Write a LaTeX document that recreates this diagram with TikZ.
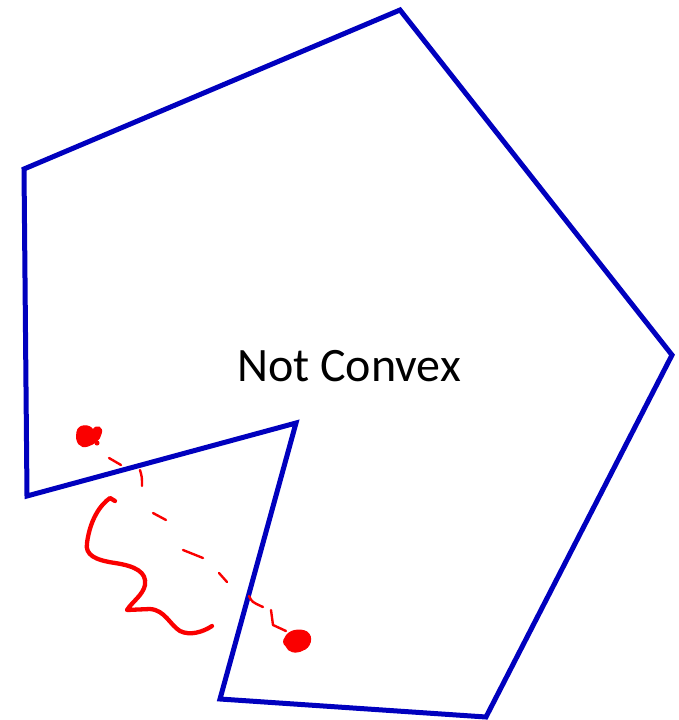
\documentclass[tikz,border=0pt]{standalone}
\usepackage{fontspec}
\setmainfont{Carlito}
\definecolor{polyblue}{RGB}{0,0,190}
\definecolor{inkred}{RGB}{250,0,0}
\tikzset{
  polyline/.style={draw=polyblue, line width=5pt, line join=miter},
  ink/.style={draw=inkred, line width=4.3pt, line cap=round, line join=round},
  inkdash/.style={draw=inkred, line width=2.4pt, line cap=round, line join=round},
  blob/.style={fill=inkred, draw=inkred, line width=1pt}
}
\begin{document}
\begin{tikzpicture}[x=1pt,y=-1pt]
\useasboundingbox (0,0) rectangle (679,720);
\coordinate (A) at (400,10);
\coordinate (B) at (672,355);
\coordinate (C) at (486,717);
\coordinate (D) at (220,699);
\coordinate (E) at (296,423);
\coordinate (F) at (27,496);
\coordinate (G) at (24,169);
\draw[polyline] (A) -- (B) -- (C) -- (D) -- (E) -- (F) -- (G) -- cycle;
\node[font=\fontsize{48}{54}\selectfont, inner sep=0pt] (lbl) at (349,366) {Not Convex};
% red blobs
\coordinate (P) at (89,436);
\coordinate (Q) at (297,641);
\fill[blob] (77,432) .. controls (78,424) and (90,424) .. (93,430) .. controls (96,424) and (104,427) .. (101,434) .. controls (100,440) and (94,444) .. (88,446) .. controls (80,449) and (75,442) .. (77,432) -- cycle;
\fill[blob] (97,443) circle (2pt);
\fill[blob] (285,638) .. controls (288,630) and (300,628) .. (307,632) .. controls (314,637) and (310,648) .. (303,650) .. controls (296,654) and (288,652) .. (286,646) .. controls (283,644) and (283,640) .. (285,638) -- cycle;
% dashed connection
\draw[inkdash] (109,458) -- (121,465);
\draw[inkdash] (140,470) .. controls (142,477) .. (142,486);
\draw[inkdash] (153,513) -- (166,520);
\draw[inkdash] (183,550) -- (203,558);
\draw[inkdash] (219,573) -- (227,582);
\draw[inkdash] (249,596) .. controls (252,602) .. (263,607);
\draw[inkdash] (271,610) -- (273,625) -- (286,631);
% squiggle
\draw[ink] (115,501) -- (110,498) .. controls (100,505) and (90,520) .. (87,543)
  .. controls (85,555) and (95,560) .. (115,563)
  .. controls (135,566) and (147,572) .. (145,585)
  .. controls (143,595) and (132,602) .. (127,610)
  -- (150,609)
  .. controls (165,610) and (170,625) .. (180,631)
  .. controls (190,636) and (203,632) .. (212,626);
\end{tikzpicture}
\end{document}
